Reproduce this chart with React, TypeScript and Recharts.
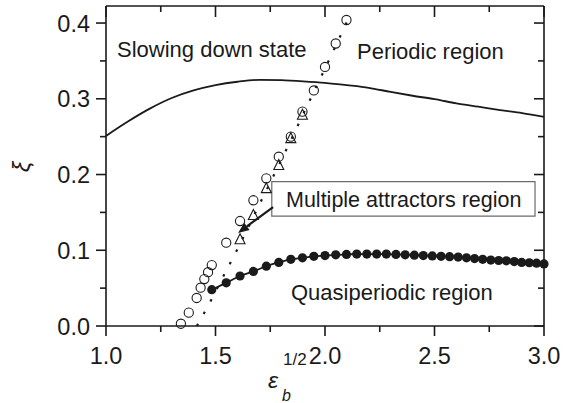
import React from 'react';
import {
  ComposedChart,
  XAxis,
  YAxis,
  Line,
  Scatter,
  ReferenceArea,
  ReferenceLine
} from 'recharts';

// no quotes inside the family list
const FONT = 'Liberation Sans, Arial, Helvetica, sans-serif';
const INK = '#1a1a1a';

const X_DOMAIN = [1, 3];
const Y_DOMAIN = [0, 0.4225];
const X_TICKS = [1.0, 1.25, 1.5, 1.75, 2.0, 2.25, 2.5, 2.75, 3.0];
const Y_TICKS = [0, 0.05, 0.1, 0.15, 0.2, 0.25, 0.3, 0.35, 0.4];

// solid boundary between slowing down state and periodic region
const boundaryX = [1.0, 1.1, 1.2, 1.3, 1.4, 1.5, 1.6, 1.7, 1.8, 1.9, 2.0, 2.1, 2.2, 2.3, 2.4, 2.5, 2.6, 2.7, 2.8, 2.9, 3.0];
const boundaryY = [0.251, 0.27, 0.287, 0.301, 0.311, 0.318, 0.3225, 0.325, 0.3245, 0.323, 0.321, 0.318, 0.3145, 0.309, 0.304, 0.2995, 0.294, 0.2895, 0.285, 0.281, 0.276];

// filled circles (quasiperiodic boundary)
const quasiX = [1.483, 1.549, 1.612, 1.673, 1.732, 1.789, 1.844, 1.897, 1.949, 2.0, 2.049, 2.098, 2.145, 2.191, 2.236, 2.28, 2.324, 2.366, 2.408, 2.449, 2.49, 2.53, 2.569, 2.608, 2.646, 2.683, 2.72, 2.757, 2.793, 2.828, 2.864, 2.898, 2.933, 2.966, 3.0];
const quasiY = [0.048, 0.057, 0.066, 0.072, 0.079, 0.084, 0.088, 0.09, 0.092, 0.093, 0.094, 0.0945, 0.095, 0.095, 0.095, 0.095, 0.0945, 0.094, 0.0935, 0.093, 0.0925, 0.092, 0.0915, 0.091, 0.09, 0.089, 0.088, 0.087, 0.0865, 0.086, 0.085, 0.084, 0.0835, 0.083, 0.082];

// open circles
const circleX = [1.342, 1.378, 1.414, 1.432, 1.449, 1.466, 1.483, 1.549, 1.612, 1.673, 1.732, 1.789, 1.844, 1.897, 1.949, 2.0, 2.049, 2.098];
const circleY = [0.003, 0.0176, 0.037, 0.0506, 0.062, 0.071, 0.0805, 0.11, 0.1386, 0.166, 0.195, 0.2235, 0.25, 0.283, 0.311, 0.342, 0.373, 0.404];

// open triangles
const triangleX = [1.612, 1.673, 1.732, 1.789, 1.844, 1.897];
const triangleY = [0.1145, 0.1465, 0.182, 0.2125, 0.248, 0.279];

// dotted guide line
const dottedX = [1.415, 1.478, 1.533, 1.594, 1.703, 1.817, 1.924, 2.033, 2.12];
const dottedY = [0, 0.033, 0.064, 0.098, 0.162, 0.229, 0.294, 0.36, 0.414];

const zip = (xs: number[], ys: number[]) => xs.map((x, i) => ({ x, y: ys[i] }));

const boundaryData = zip(boundaryX, boundaryY);
const quasiData = zip(quasiX, quasiY);
const circleData = zip(circleX, circleY);
const triangleData = zip(triangleX, triangleY);
const dottedData = zip(dottedX, dottedY);

const isMajorX = (v: number) => Math.abs(v * 2 - Math.round(v * 2)) < 1e-6;
const isMajorY = (v: number) => Math.abs(v * 10 - Math.round(v * 10)) < 1e-6;

const BottomTick = ({ x, y, payload }: any) => {
  const major = isMajorX(payload.value);
  return (
    <g>
      <line x1={x} x2={x} y1={y} y2={y + (major ? 10 : 6)} stroke={INK} strokeWidth={1.6} />
      {major && (
        <text x={x} y={y + 38} textAnchor="middle" fontSize={23.5} fill={INK} fontFamily={FONT}>
          {payload.value.toFixed(1)}
        </text>
      )}
    </g>
  );
};

const TopTick = ({ x, y, payload }: any) => {
  const major = isMajorX(payload.value);
  return <line x1={x} x2={x} y1={y} y2={y + (major ? 11 : 6)} stroke={INK} strokeWidth={1.6} />;
};

const LeftTick = ({ x, y, payload }: any) => {
  const major = isMajorY(payload.value);
  return (
    <g>
      <line x1={x} x2={x - (major ? 10 : 6)} y1={y} y2={y} stroke={INK} strokeWidth={1.6} />
      {major && (
        <text x={x - 16} y={y + 8.5} textAnchor="end" fontSize={23.5} fill={INK} fontFamily={FONT}>
          {payload.value.toFixed(1)}
        </text>
      )}
    </g>
  );
};

const RightTick = ({ x, y, payload }: any) => {
  const major = isMajorY(payload.value);
  return <line x1={x} x2={x - (major ? 10 : 6)} y1={y} y2={y} stroke={INK} strokeWidth={1.6} />;
};

const OpenCircle = ({ cx, cy }: any) => (
  <circle cx={cx} cy={cy} r={4.6} fill="none" stroke={INK} strokeWidth={1.1} />
);

const OpenTriangle = ({ cx, cy }: any) => (
  <polygon
    points={`${cx},${cy - 5.5} ${cx - 5},${cy + 4.5} ${cx + 5},${cy + 4.5}`}
    fill="none"
    stroke={INK}
    strokeWidth={1.1}
  />
);

const ArrowShape = ({ x1, y1, x2, y2 }: any) => {
  const dx = x2 - x1;
  const dy = y2 - y1;
  const len = Math.hypot(dx, dy) || 1;
  const ux = dx / len;
  const uy = dy / len;
  const hl = 11;
  const hw = 4.5;
  const bx = x2 - ux * hl;
  const by = y2 - uy * hl;
  return (
    <g>
      <line x1={x1} y1={y1} x2={bx} y2={by} stroke={INK} strokeWidth={2.2} />
      <polygon
        points={`${x2},${y2} ${bx - uy * hw},${by + ux * hw} ${bx + uy * hw},${by - ux * hw}`}
        fill={INK}
      />
    </g>
  );
};

const axisLine = { stroke: INK, strokeWidth: 1.6 };

export default function App() {
  return (
    <div style={{ position: 'absolute', left: 0, top: 0, width: 571, height: 403 }}>
      <ComposedChart width={571} height={403} margin={{ top: 0, right: 0, bottom: 47, left: 46 }}>
        <XAxis
          dataKey="x"
          type="number"
          domain={X_DOMAIN}
          ticks={X_TICKS}
          interval={0}
          height={30}
          tickSize={0}
          tickMargin={0}
          tickLine={false}
          axisLine={axisLine}
          tick={BottomTick}
        />
        <XAxis
          xAxisId="top"
          dataKey="x"
          orientation="top"
          type="number"
          domain={X_DOMAIN}
          ticks={X_TICKS}
          interval={0}
          height={6}
          tickSize={0}
          tickMargin={0}
          tickLine={false}
          axisLine={axisLine}
          tick={TopTick}
        />
        <YAxis
          dataKey="y"
          type="number"
          domain={Y_DOMAIN}
          ticks={Y_TICKS}
          interval={0}
          width={60}
          tickSize={0}
          tickMargin={0}
          tickLine={false}
          axisLine={axisLine}
          tick={LeftTick}
        />
        <YAxis
          yAxisId="right"
          dataKey="y"
          orientation="right"
          type="number"
          domain={Y_DOMAIN}
          ticks={Y_TICKS}
          interval={0}
          width={27}
          tickSize={0}
          tickMargin={0}
          tickLine={false}
          axisLine={axisLine}
          tick={RightTick}
        />
        {/* hidden series so the mirror axes on top and right get drawn */}
        <Line
          xAxisId="top"
          yAxisId="right"
          data={boundaryData}
          dataKey="y"
          stroke="none"
          dot={false}
          isAnimationActive={false}
        />
        <ReferenceArea
          x1={1.757}
          x2={2.959}
          y1={0.1452}
          y2={0.1905}
          fill="#fff"
          fillOpacity={1}
          stroke="#6b6b6b"
          strokeWidth={1.2}
        />
        <ReferenceLine
          segment={[{ x: 1.763, y: 0.157 }, { x: 1.603, y: 0.1228 }]}
          stroke={INK}
          shape={ArrowShape}
        />
        <Line
          data={boundaryData}
          dataKey="y"
          type="monotone"
          stroke={INK}
          strokeWidth={1.8}
          dot={false}
          isAnimationActive={false}
        />
        <Line
          data={dottedData}
          dataKey="y"
          type="monotone"
          stroke={INK}
          strokeWidth={2.2}
          strokeDasharray="2.5 11.5"
          dot={false}
          isAnimationActive={false}
        />
        <Line
          data={quasiData}
          dataKey="y"
          type="monotone"
          stroke={INK}
          strokeWidth={1.8}
          dot={{ r: 4.6, fill: INK, stroke: INK, strokeWidth: 0 }}
          isAnimationActive={false}
        />
        <Scatter data={circleData} dataKey="y" shape={OpenCircle} isAnimationActive={false} />
        <Scatter data={triangleData} dataKey="y" shape={OpenTriangle} isAnimationActive={false} />
      </ComposedChart>
      <svg
        width={571}
        height={403}
        style={{ position: 'absolute', left: 0, top: 0, pointerEvents: 'none' }}
      >
        <g fontFamily={FONT} fill={INK}>
          <text x={117} y={57} fontSize={22}>Slowing down state</text>
          <text x={357} y={59} fontSize={22}>Periodic region</text>
          <text x={403.7} y={206.5} fontSize={21.5} textAnchor="middle">Multiple attractors region</text>
          <text x={291} y={300} fontSize={22}>Quasiperiodic region</text>
          <g transform="translate(30,167) rotate(-90)">
            <text x={0} y={0} fontSize={24} fontStyle="italic" textAnchor="middle">ξ</text>
          </g>
          <text x={268} y={388} fontSize={23} fontStyle="italic">ε</text>
          <text x={282} y={401} fontSize={16} fontStyle="italic">b</text>
          <text x={283} y={364.5} fontSize={17}>1/2</text>
        </g>
      </svg>
    </div>
  );
}
